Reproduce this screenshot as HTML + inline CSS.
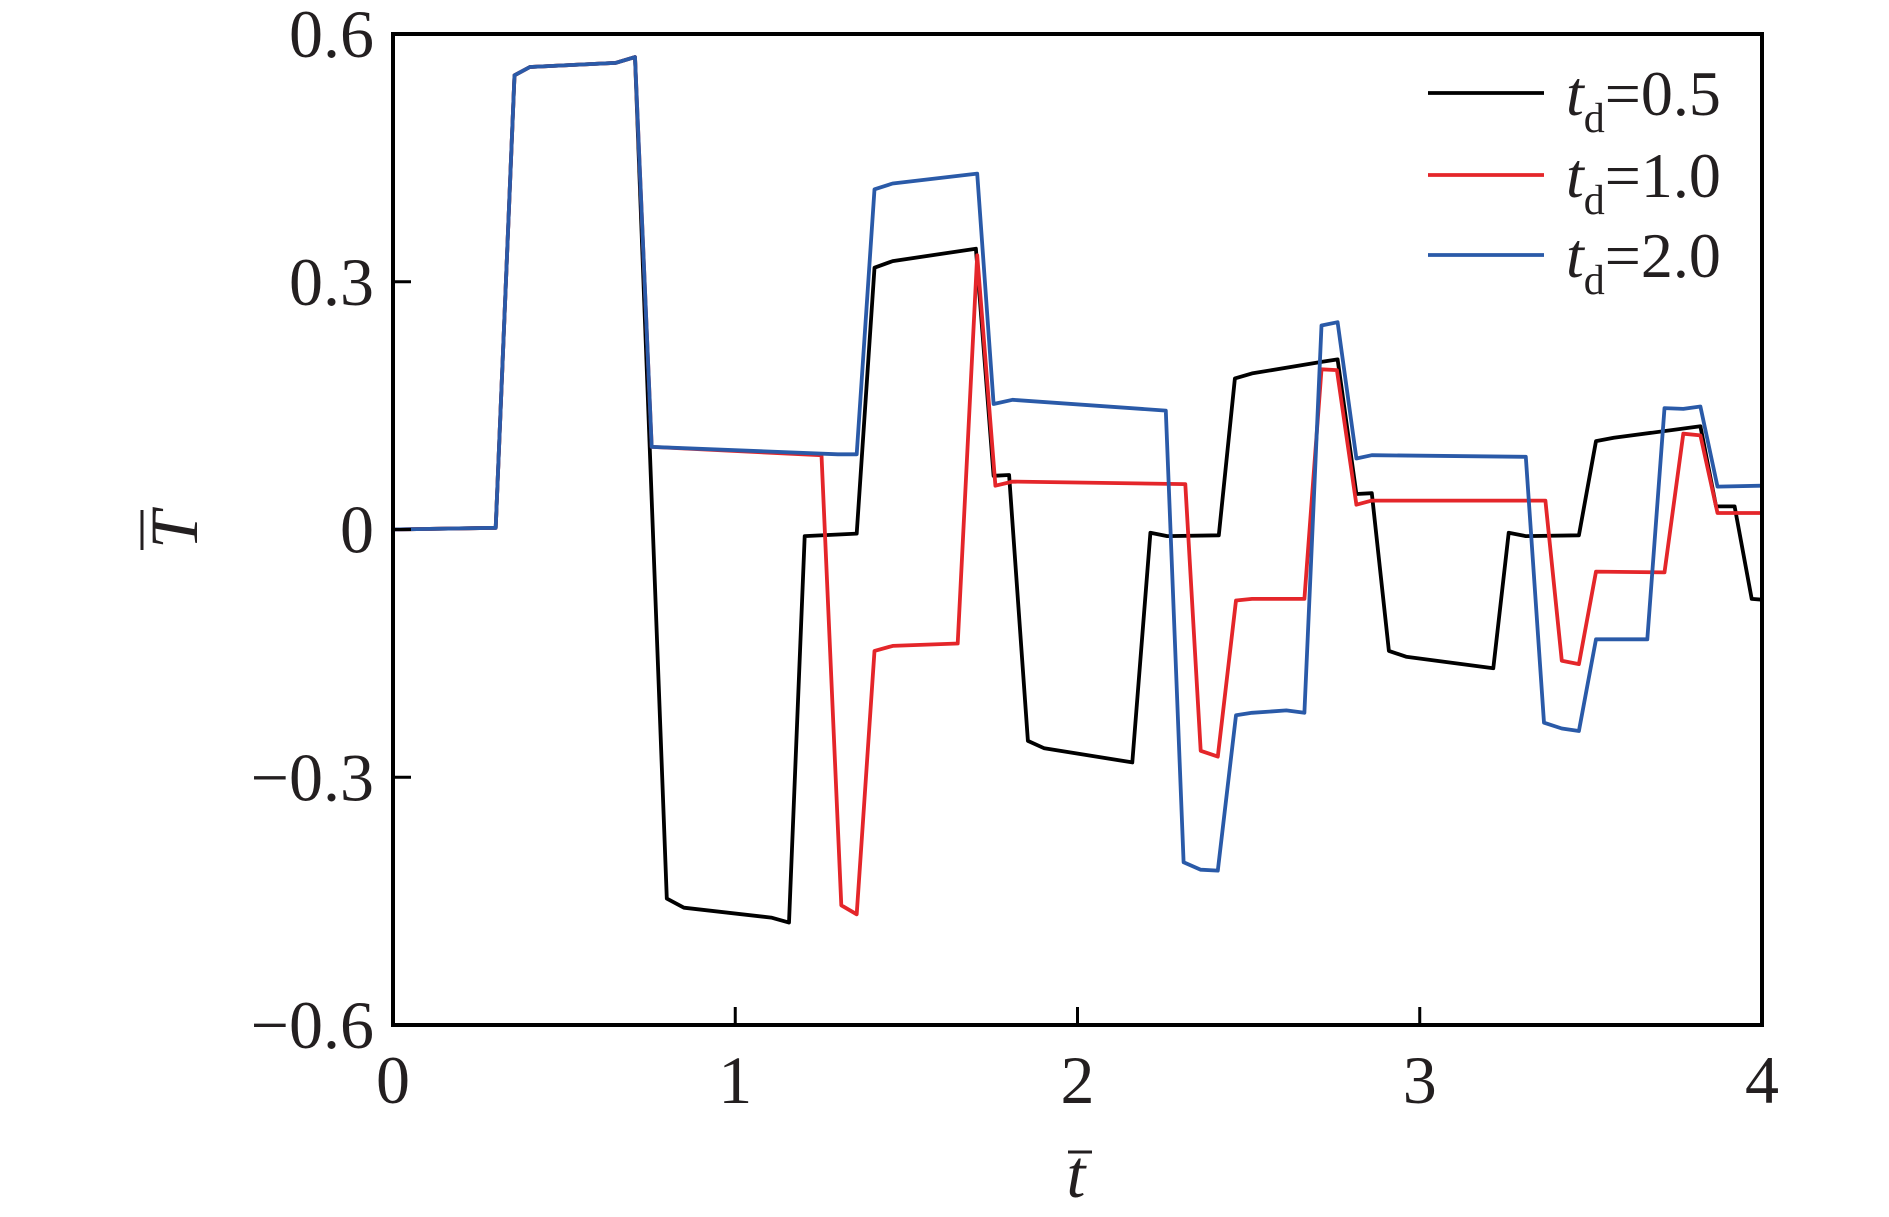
<!DOCTYPE html>
<html><head><meta charset="utf-8"><style>
html,body{margin:0;padding:0;background:#fff}
svg{display:block;font-family:"Liberation Serif",serif}
</style></head><body>
<svg id="chart" width="1889" height="1217" viewBox="0 0 1889 1217" xmlns="http://www.w3.org/2000/svg">
<g id="plot"></g>
<g id="axes"></g>
<g id="legend"></g>
</svg>
<script>
const xTicks = [0, 1, 2, 3, 4];
const yTicks = [0.6, 0.3, 0, -0.3, -0.6];
const yTickLabels = ["0.6", "0.3", "0", "\u22120.3", "\u22120.6"];
const seriesNames = ["td=0.5", "td=1.0", "td=2.0"];
const seriesLabels = ["0.5", "1.0", "2.0"];
const s1_t = [0, 0.3, 0.355, 0.4, 0.65, 0.707, 0.75, 0.8, 0.85, 1.105, 1.157, 1.203, 1.355, 1.407, 1.46, 1.703, 1.755, 1.80, 1.855, 1.903, 2.16, 2.213, 2.262, 2.413, 2.46, 2.51, 2.713, 2.76, 2.815, 2.86, 2.91, 2.96, 3.215, 3.26, 3.31, 3.465, 3.515, 3.567, 3.82, 3.866, 3.92, 3.97, 4.0];
const s1_v = [0, 0.002, 0.55, 0.56, 0.565, 0.572, 0.1, -0.447, -0.458, -0.47, -0.476, -0.008, -0.005, 0.317, 0.325, 0.34, 0.065, 0.066, -0.256, -0.265, -0.282, -0.004, -0.008, -0.007, 0.183, 0.189, 0.203, 0.206, 0.043, 0.044, -0.147, -0.154, -0.168, -0.004, -0.008, -0.007, 0.107, 0.111, 0.125, 0.028, 0.028, -0.084, -0.085];
const s2_t = [0, 0.3, 0.355, 0.4, 0.65, 0.707, 0.756, 1.252, 1.31, 1.355, 1.407, 1.46, 1.65, 1.707, 1.76, 1.81, 2.315, 2.36, 2.41, 2.463, 2.51, 2.663, 2.713, 2.758, 2.815, 2.86, 3.367, 3.415, 3.465, 3.515, 3.715, 3.77, 3.82, 3.87, 4.0];
const s2_v = [0, 0.002, 0.55, 0.56, 0.565, 0.572, 0.1, 0.09, -0.455, -0.466, -0.147, -0.141, -0.138, 0.332, 0.053, 0.058, 0.055, -0.268, -0.275, -0.086, -0.084, -0.084, 0.194, 0.193, 0.03, 0.035, 0.035, -0.159, -0.163, -0.051, -0.052, 0.116, 0.114, 0.02, 0.02];
const s3_t = [0, 0.3, 0.355, 0.4, 0.65, 0.707, 0.756, 1.30, 1.355, 1.407, 1.46, 1.707, 1.755, 1.81, 2.258, 2.31, 2.36, 2.41, 2.463, 2.51, 2.61, 2.663, 2.713, 2.76, 2.815, 2.86, 3.31, 3.363, 3.415, 3.465, 3.515, 3.665, 3.715, 3.77, 3.82, 3.87, 4.0];
const s3_v = [0, 0.002, 0.55, 0.56, 0.565, 0.572, 0.1, 0.091, 0.091, 0.412, 0.419, 0.431, 0.152, 0.157, 0.144, -0.403, -0.412, -0.413, -0.225, -0.222, -0.219, -0.222, 0.247, 0.251, 0.086, 0.09, 0.088, -0.234, -0.241, -0.244, -0.133, -0.133, 0.147, 0.146, 0.149, 0.052, 0.053];

const NS = "http://www.w3.org/2000/svg";
const X0 = 393, X1 = 1762, Y0 = 1025, Y1 = 34;
function xs(t){ return X0 + (t - 0) / 4 * (X1 - X0); }
function ys(v){ return Y0 - (v + 0.6) / 1.2 * (Y0 - Y1); }
function mk(tag, attrs, parent){ const e = document.createElementNS(NS, tag); for (const k in attrs) e.setAttribute(k, attrs[k]); parent.appendChild(e); return e; }

const plot = document.getElementById("plot");
const axes = document.getElementById("axes");
const legend = document.getElementById("legend");
const colors = ["#000000", "#e4262a", "#2a5aa8"];
const allT = [s1_t, s2_t, s3_t], allV = [s1_v, s2_v, s3_v];
[0, 1, 2].forEach(i => {
  const d = allT[i].map((t, j) => (j ? "L" : "M") + xs(t).toFixed(1) + "," + ys(allV[i][j]).toFixed(1)).join(" ");
  const p = mk("path", {d: d, fill: "none", stroke: colors[i], "stroke-width": 3.8, "stroke-linejoin": "round"}, plot);
  
  
});

const frame = mk("rect", {x: X0, y: Y1, width: X1 - X0, height: Y0 - Y1, fill: "none", stroke: "#000", "stroke-width": 4}, axes);



xTicks.forEach(t => {
  if (t > 0 && t < 4) {
    const tk = mk("line", {x1: xs(t), x2: xs(t), y1: Y0, y2: Y0 - 18, stroke: "#000", "stroke-width": 3}, axes);
    
    
  }
  const lb = mk("text", {x: xs(t), y: 1103, "font-size": 68, "text-anchor": "middle", fill: "#231f20"}, axes);
  lb.textContent = String(t);
  
  
});
yTicks.forEach((v, i) => {
  if (i > 0 && i < yTicks.length - 1) {
    const tk = mk("line", {x1: X0, x2: X0 + 18, y1: ys(v), y2: ys(v), stroke: "#000", "stroke-width": 3}, axes);
    
    
  }
  const lb = mk("text", {x: 374, y: ys(v) + 23, "font-size": 68, "text-anchor": "end", fill: "#231f20"}, axes);
  lb.textContent = yTickLabels[i];
  
  
});

const xl = mk("text", {x: 1076, y: 1197, "font-size": 68, "font-style": "italic", "text-anchor": "middle", fill: "#231f20"}, axes);
xl.textContent = "t";


const xb = mk("line", {x1: 1068, x2: 1092, y1: 1152, y2: 1152, stroke: "#231f20", "stroke-width": 3}, axes);



const yl = mk("text", {x: 0, y: 0, "font-size": 68, "font-style": "italic", "text-anchor": "middle", fill: "#231f20", transform: "translate(197,530) rotate(-90)"}, axes);
yl.textContent = "T";


const yb = mk("line", {x1: 142, x2: 142, y1: 510, y2: 550, stroke: "#231f20", "stroke-width": 3}, axes);



const legY = [93, 175, 255];
seriesNames.forEach((n, i) => {
  const g = mk("g", {}, legend);
  
  
  const ln = mk("line", {x1: 1428, x2: 1544, y1: legY[i], y2: legY[i], stroke: colors[i], "stroke-width": 3.8}, g);
  
  
  const tx = mk("text", {x: 1566, y: legY[i] + 22, "font-size": 64, fill: "#231f20"}, g);
  
  
  const a = document.createElementNS(NS, "tspan"); a.setAttribute("font-style", "italic"); a.textContent = "t"; tx.appendChild(a);
  const b = document.createElementNS(NS, "tspan"); b.setAttribute("font-size", 42); b.setAttribute("dy", 17); b.textContent = "d"; tx.appendChild(b);
  const c = document.createElementNS(NS, "tspan"); c.setAttribute("dy", -17); c.textContent = "=" + seriesLabels[i]; tx.appendChild(c);
});
</script>
</body></html>
